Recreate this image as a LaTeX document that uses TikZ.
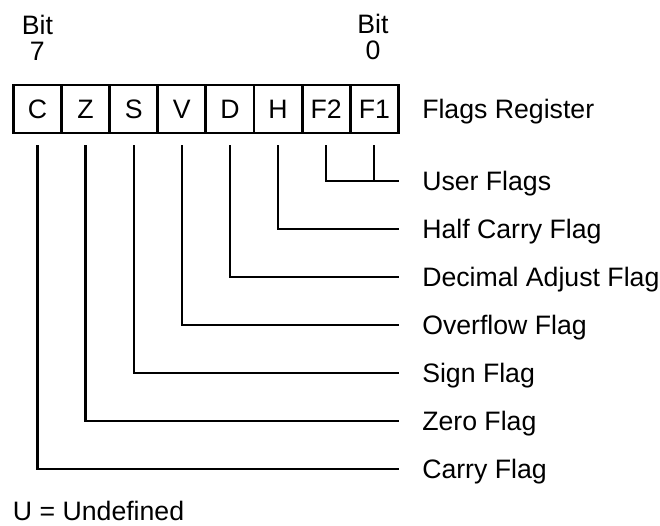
\documentclass[tikz,border=0pt]{standalone}
\usepackage{fontspec}
\setmainfont{Liberation Sans}
\usetikzlibrary{positioning}
\tikzset{
  cell/.style   = {draw, line width=2.2pt, minimum width=36.1pt, minimum height=36pt,
                   inner sep=0pt, outer sep=0pt},
  conn/.style   = {line width=1.7pt},
  lbl/.style    = {anchor=west, inner sep=0pt, text height=14.3pt, text depth=0pt},
  bitlbl/.style = {align=center, inner sep=0pt, font=\fontsize{20}{19.5}\selectfont},
}

\begin{document}
\begin{tikzpicture}[x=0.75pt, y=-0.75pt, font=\fontsize{20}{24}\selectfont]
  \useasboundingbox (0,0) rectangle (660,525);

  % ---- register cells ----
  \node[cell] (c7) at (37.4,109) {C};
  \node[cell, right=0pt of c7] (c6) {Z};
  \node[cell, right=0pt of c6] (c5) {S};
  \node[cell, right=0pt of c5] (c4) {V};
  \node[cell, right=0pt of c4] (c3) {D};
  \node[cell, right=0pt of c3] (c2) {H};
  \node[cell, right=0pt of c2] (c1) {F2};
  \node[cell, right=0pt of c1] (c0) {F1};
  \node[bitlbl, above=18.5pt of c7] (bit7) {Bit\\7};
  \node[bitlbl, above=18.5pt of c0, xshift=-1pt] (bit0) {Bit\\0};

  % ---- flag names ----
  \node[lbl] (lbReg)   at (422,109) {Flags Register};
  \node[lbl] (lbUser)  at (422,181) {User Flags};
  \node[lbl] (lbHalf)  at (422,229) {Half Carry Flag};
  \node[lbl] (lbDec)   at (422,277) {Decimal Adjust Flag};
  \node[lbl] (lbOver)  at (422,325) {Overflow Flag};
  \node[lbl] (lbSign)  at (422,373) {Sign Flag};
  \node[lbl] (lbZero)  at (422,421) {Zero Flag};
  \node[lbl] (lbCarry) at (422,469) {Carry Flag};
  \node[lbl] (note)    at (12.7,511) {U = Undefined};

  % ---- leader lines ----
  \draw[conn] ([yshift=-9pt]c1.south) |- ([xshift=-17.25pt]lbUser.west);
  \draw[conn] ([yshift=-9pt]c0.south) -- (c0.south |- lbUser.west);
  \draw[conn] ([yshift=-9pt]c2.south) |- ([xshift=-17.25pt]lbHalf.west);
  \draw[conn] ([yshift=-9pt]c3.south) |- ([xshift=-17.25pt]lbDec.west);
  \draw[conn] ([yshift=-9pt]c4.south) |- ([xshift=-17.25pt]lbOver.west);
  \draw[conn] ([yshift=-9pt]c5.south) |- ([xshift=-17.25pt]lbSign.west);
  \draw[conn] ([yshift=-9pt]c6.south) |- ([xshift=-17.25pt]lbZero.west);
  \draw[conn] ([yshift=-9pt]c7.south) |- ([xshift=-17.25pt]lbCarry.west);
\end{tikzpicture}
\end{document}
